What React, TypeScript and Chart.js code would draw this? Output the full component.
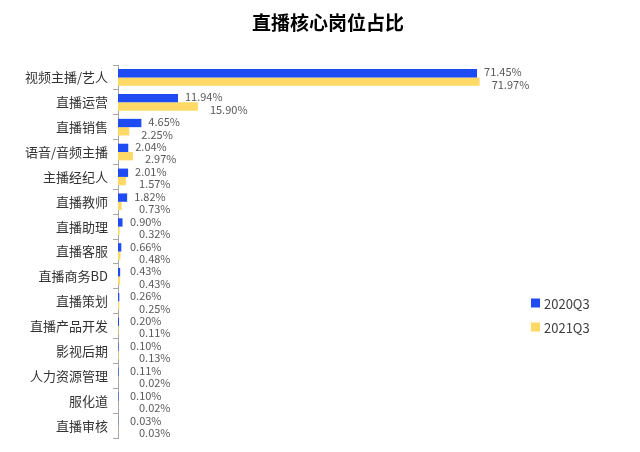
import React, { useEffect, useRef } from "react";
import { Chart, registerables } from "chart.js";

Chart.register(...registerables);

const TITLE = "直播核心岗位占比";
const categories = [
  "视频主播/艺人",
  "直播运营",
  "直播销售",
  "语音/音频主播",
  "主播经纪人",
  "直播教师",
  "直播助理",
  "直播客服",
  "直播商务BD",
  "直播策划",
  "直播产品开发",
  "影视后期",
  "人力资源管理",
  "服化道",
  "直播审核",
];
const series2020 = [71.45, 11.94, 4.65, 2.04, 2.01, 1.82, 0.9, 0.66, 0.43, 0.26, 0.2, 0.1, 0.11, 0.1, 0.03];
const series2021 = [71.97, 15.9, 2.25, 2.97, 1.57, 0.73, 0.32, 0.48, 0.43, 0.25, 0.11, 0.13, 0.02, 0.02, 0.03];
const seriesNames = ["2020Q3", "2021Q3"];
const seriesColors = ["#1f4cf2", "#ffd966"];

const FONT = '"Microsoft YaHei", "Noto Sans CJK SC", "Noto Sans", sans-serif';

const decorPlugin = {
  id: "decor",
  afterDatasetsDraw(chart: any) {
    const ctx = chart.ctx;
    ctx.save();
    // data labels
    ctx.font = `11px ${FONT}`;
    ctx.fillStyle = "#595959";
    ctx.textAlign = "left";
    ctx.textBaseline = "middle";
    const left = chart.chartArea.left;
    chart.data.datasets.forEach((ds: any, di: number) => {
      const meta = chart.getDatasetMeta(di);
      meta.data.forEach((el: any, i: number) => {
        const v = ds.data[i];
        const txt = v.toFixed(2) + "%";
        let x: number, y: number;
        if (di === 0) {
          x = Math.max(el.x + 7, left + 12);
          y = el.y - 1;
        } else {
          x = Math.max(el.x + 12, left + 21);
          y = el.y + 3;
        }
        ctx.fillText(txt, x, y);
      });
    });
    // title
    ctx.font = `bold 19px ${FONT}`;
    ctx.fillStyle = "#000000";
    ctx.textAlign = "center";
    ctx.fillText(TITLE, 328, 23);
    // legend
    ctx.font = `13px ${FONT}`;
    ctx.textAlign = "left";
    seriesNames.forEach((name, i) => {
      const cy = 303 + i * 24;
      ctx.fillStyle = seriesColors[i];
      ctx.fillRect(531, cy - 4.5, 9, 9);
      ctx.fillStyle = "#404040";
      ctx.fillText(name, 544, cy + 1);
    });
    ctx.restore();
  },
};

export default function App() {
  const ref = useRef<HTMLCanvasElement | null>(null);
  useEffect(() => {
    if (!ref.current) return;
    const chart = new Chart(ref.current, {
      type: "bar",
      data: {
        labels: categories,
        datasets: [
          { label: seriesNames[0], data: series2020, backgroundColor: seriesColors[0] },
          { label: seriesNames[1], data: series2021, backgroundColor: seriesColors[1] },
        ],
      },
      options: {
        indexAxis: "y",
        responsive: false,
        animation: false,
        devicePixelRatio: 1,
        datasets: { bar: { categoryPercentage: 0.67, barPercentage: 1.0 } },
        layout: { padding: { top: 65, right: 120, bottom: 14, left: 0 } },
        plugins: {
          legend: { display: false },
          title: { display: false },
          tooltip: { enabled: false },
        },
        scales: {
          x: { display: false, min: 0, max: 80 },
          y: {
            afterFit(scale: any) {
              scale.width = 118;
            },
            grid: {
              display: true,
              drawOnChartArea: false,
              drawTicks: true,
              tickLength: 5,
              color: "#a6a6a6",
              offset: true,
            },
            border: { display: true, color: "#a6a6a6", width: 1 },
            ticks: {
              color: "#333333",
              padding: 5,
              font: { size: 13, family: FONT },
              autoSkip: false,
            },
          },
        },
      },
      plugins: [decorPlugin],
    } as any);
    return () => chart.destroy();
  }, []);
  return (
    <div style={{ position: "fixed", left: 0, top: 0, width: 640, height: 452, background: "#fff" }}>
      <canvas ref={ref} width={640} height={452} />
    </div>
  );
}
